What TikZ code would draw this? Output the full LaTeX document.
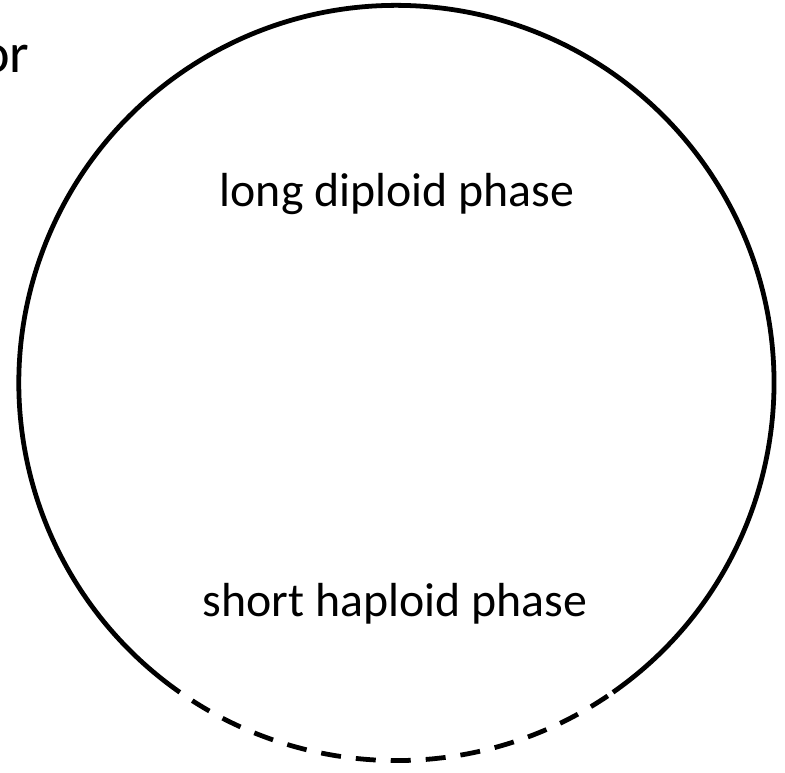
\documentclass[tikz,border=0pt]{standalone}
\usepackage{fontspec}
\setmainfont{Carlito}
\usepackage{tikz}
\usetikzlibrary{positioning}

\begin{document}
\begin{tikzpicture}
\tikzset{
 t/.style={inner sep=0pt,anchor=base,font=\fontsize{34}{40}\selectfont},
 ring/.style={line width=3.4pt},
 gap/.style={ring,dash pattern=on 0.5cm off 0.375cm,dash phase=0.5cm}
}
\useasboundingbox (0,0) rectangle (19.625,19.325);
\coordinate (c) at (9.91,9.75);
\draw[ring] (c) ++(-55:9.44) arc[start angle=-55,end angle=235,radius=9.44];
\draw[gap] (c) ++(235:9.44) arc[start angle=235,end angle=305,radius=9.44];
\node[t] (long) at (9.925,14.15) {long diploid phase};
\node[t] (short) at (9.875,3.9) {short haploid phase};
\node[t,anchor=base east,font=\fontsize{40}{46}\selectfont] (or) at (0.74,17.5) {or};
\end{tikzpicture}
\end{document}
